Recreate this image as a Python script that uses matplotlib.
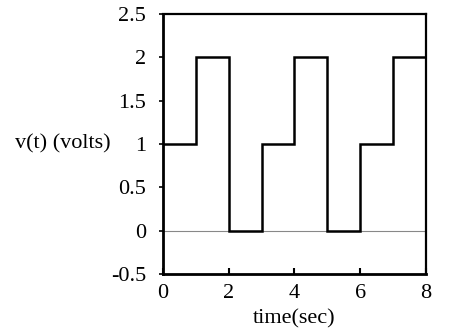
import matplotlib
matplotlib.use("Agg")
import matplotlib.pyplot as plt

# Piecewise-constant voltage: level held on each 1-second interval
t_edges = [0, 1, 2, 3, 4, 5, 6, 7, 8]
v_levels = [1, 2, 0, 1, 2, 0, 1, 2]

x_ticks = [0, 2, 4, 6, 8]
y_ticks = [-0.5, 0, 0.5, 1, 1.5, 2, 2.5]
y_tick_labels = ["-0.5", "0", "0.5", "1", "1.5", "2", "2.5"]

plt.rcParams["font.family"] = ["Liberation Serif", "DejaVu Serif"]

fig = plt.figure(figsize=(4.56, 3.32), dpi=100)
ax = fig.add_axes([163 / 456, 1 - 274 / 332, (426 - 163) / 456, (274 - 14) / 332])

# zero reference line
ax.axhline(0, color="#888888", lw=0.8, zorder=1)

# step waveform
xs = []
ys = []
for i, v in enumerate(v_levels):
    xs += [t_edges[i], t_edges[i + 1]]
    ys += [v, v]
ax.plot(xs, ys, color="black", lw=1.8, zorder=2, solid_joinstyle="miter")

ax.set_xlim(0, 8)
ax.set_ylim(-0.5, 2.5)
ax.set_xticks(x_ticks)
ax.set_xticklabels([str(x) for x in x_ticks])
ax.set_yticks(y_ticks)
ax.set_yticklabels(y_tick_labels)
ax.tick_params(axis="x", direction="in", length=4, width=1.5, labelsize=16, pad=7)
ax.tick_params(axis="y", direction="out", length=3, width=1.2, labelsize=16, pad=9)

for s in ["left", "bottom"]:
    ax.spines[s].set_linewidth(2.0)
for s in ["top", "right"]:
    ax.spines[s].set_linewidth(1.6)

ax.set_xlabel("time(sec)", fontsize=16, labelpad=5)
ax.text(-0.2, 1, "v(t) (volts)", transform=ax.get_yaxis_transform(),
        fontsize=16, ha="right", va="center")

fig.savefig("out.png", dpi=100)
